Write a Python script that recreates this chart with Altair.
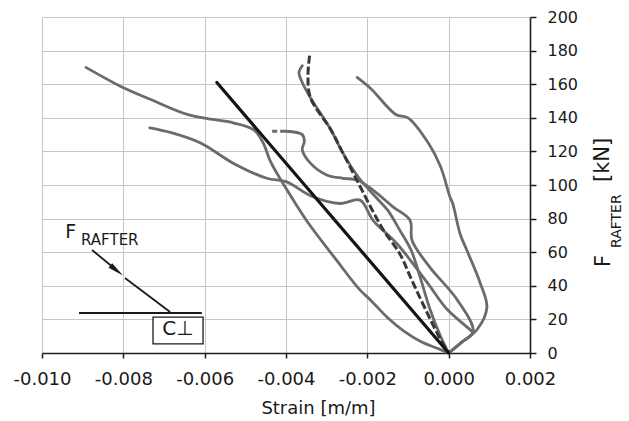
import altair as alt
import pandas as pd

# ---------------- data ----------------
X_TICKS = [-0.010, -0.008, -0.006, -0.004, -0.002, 0.000, 0.002]
Y_TICKS = [0, 20, 40, 60, 80, 100, 120, 140, 160, 180, 200]

# long curve starting top-left
A_x = [-0.00892, -0.00801, -0.00734, -0.00643, -0.0058, -0.0053, -0.0048, -0.00456, -0.0044,
       -0.0042, -0.00405, -0.0035, -0.00275, -0.0022, -0.0019, -0.0015, -0.0011, -0.0007,
       -0.0003, 0.0]
A_y = [170, 158, 151, 142, 139, 137, 133, 125, 115, 106, 100, 79, 55, 38, 31, 21, 13, 7, 3, 0]

# second curve from the left
B_x = [-0.00735, -0.0068, -0.0061, -0.0053, -0.00447, -0.0040, -0.00334, -0.00267, -0.00218,
       -0.00186, -0.00127, -0.00053, -0.00004, 0.00052, 0.0006, 0.0003, 0.0]
B_y = [134, 131, 125, 113, 104, 102, 93, 89, 91, 79, 65, 42, 26, 14, 12, 6, 0]

# curve with dashed start
C0_x = [-0.00434, -0.0040]
C0_y = [132, 132]
C_x = [-0.0040, -0.0036, -0.00355, -0.0036, -0.0034, -0.0030, -0.0026, -0.00225, -0.00186,
       -0.00137, -0.00095, -0.0009, -0.00046, 0.0002, 0.0006, 0.0003, 0.0]
C_y = [132, 130, 126, 121, 113, 106, 104, 103, 97, 87, 79, 67, 51, 32, 13, 6, 0]

# dark dashed curve
D_x = [-0.00342, -0.00346, -0.0034, -0.0029, -0.0026, -0.00226, -0.0019, -0.0016, -0.0012,
       -0.0009, -0.00053, -0.0002, 0.0]
D_y = [177, 165, 152, 133, 119, 103, 86, 73, 59, 43, 24, 8, 0]

# solid companion of the dashed curve
F_x = [-0.0036, -0.00368, -0.0036, -0.0034, -0.0029, -0.0026, -0.0022, -0.0018, -0.0015,
       -0.0012, -0.00092, -0.0007, -0.00046, -0.0002, 0.0]
F_y = [171, 167, 161, 152, 133, 119, 104, 93, 85, 73, 61, 45, 26, 10, 0]

# rightmost curve
E_x = [-0.00225, -0.0019, -0.0013, -0.0010, -0.0005, -0.0002, 0.00003, 0.0001, 0.00028,
       0.00045, 0.00077, 0.00094, 0.0007, 0.0003, 0.0]
E_y = [164, 157, 142, 140, 125, 111, 93, 89, 71, 61, 42, 27, 14, 6, 0]

# straight black line
K_x = [-0.0057, 0.0]
K_y = [161, 0]

# inset sketch (in data units)
INSET_SEG_X = [-0.00909, -0.00877, -0.00796]
INSET_SEG_X2 = [-0.00607, -0.00820, -0.00685]
INSET_SEG_Y = [23.8, 61.3, 44.6]
INSET_SEG_Y2 = [23.8, 50.0, 24.4]
ARROW_X = [-0.00818]
ARROW_Y = [49.5]
BOX_X = [-0.00727]
BOX_X2 = [-0.00604]
BOX_Y = [5.4]
BOX_Y2 = [21.4]
INSET_TXT = ["F", "RAFTER", "C\u22a5"]
INSET_TXT_X = [-0.00943, -0.00904, -0.00666]
INSET_TXT_Y = [68.5, 64.3, 10.7]


def frame(name, xs, ys):
    return pd.DataFrame({"series": name, "i": list(range(len(xs))), "x": xs, "y": ys})


gray_df = pd.concat([frame("A", A_x, A_y), frame("B", B_x, B_y), frame("C", C_x, C_y),
                     frame("E", E_x, E_y), frame("F", F_x, F_y)], ignore_index=True)
cdash_df = frame("C0", C0_x, C0_y)
dash_df = frame("D", D_x, D_y)
black_df = frame("K", K_x, K_y)
seg_df = pd.DataFrame({"x": INSET_SEG_X, "x2": INSET_SEG_X2, "y": INSET_SEG_Y, "y2": INSET_SEG_Y2})
arrow_df = pd.DataFrame({"x": ARROW_X, "y": ARROW_Y})
box_df = pd.DataFrame({"x": BOX_X, "x2": BOX_X2, "y": BOX_Y, "y2": BOX_Y2})
txt_df = pd.DataFrame({"t": INSET_TXT, "x": INSET_TXT_X, "y": INSET_TXT_Y})

FONT = "DejaVu Sans"
AX = "#1e1e1e"

xscale = alt.Scale(domain=[-0.010, 0.002], nice=False, zero=False)
yscale = alt.Scale(domain=[0, 200], nice=False)

x_axis = alt.Axis(values=X_TICKS, labelExpr="replace(format(datum.value, '.3f'), '\u2212', '-')",
                  title="Strain [m/m]", titleX=276, titleY=60, titleBaseline="alphabetic",
                  titleAlign="center", titleFont=FONT, titleFontSize=18, titleFontWeight="normal",
                  titleColor="#1a1a1a", labelFont=FONT, labelFontSize=18, labelColor="#1a1a1a",
                  labelPadding=12, tickSize=5, tickColor=AX, tickWidth=1.5, domainColor=AX,
                  domainWidth=1.6, grid=True, gridColor="#c6c6c6", gridWidth=1, labelFlush=False)
y_axis = alt.Axis(values=Y_TICKS, orient="right", title=None, labelFont=FONT, labelFontSize=16,
                  labelColor="#1a1a1a", labelPadding=11, tickSize=6, tickColor=AX, tickWidth=1.5,
                  domainColor=AX, domainWidth=1.6, grid=True, gridColor="#c6c6c6", gridWidth=1,
                  labelFlush=False)

X = alt.X("x:Q", scale=xscale, axis=x_axis)
Y = alt.Y("y:Q", scale=yscale, axis=y_axis)

gray = alt.Chart(gray_df).mark_line(color="#6b6b6b", strokeWidth=2.8, strokeCap="round",
                                    strokeJoin="round", interpolate="catmull-rom").encode(
    x=X, y=Y, detail="series:N", order="i:Q")
cdash = alt.Chart(cdash_df).mark_line(color="#6b6b6b", strokeWidth=2.8, strokeDash=[5, 3]).encode(
    x=X, y=Y, order="i:Q")
dashed = alt.Chart(dash_df).mark_line(color="#383838", strokeWidth=3, strokeDash=[8, 3],
                                      strokeJoin="round", interpolate="catmull-rom").encode(
    x=X, y=Y, order="i:Q")
black = alt.Chart(black_df).mark_line(color="#151515", strokeWidth=3.2, strokeCap="round").encode(
    x=X, y=Y, order="i:Q")

segs = alt.Chart(seg_df).mark_rule(color="#1a1a1a", strokeWidth=1.8).encode(
    x=X, y=Y, x2="x2:Q", y2="y2:Q")
arrow = alt.Chart(arrow_df).mark_point(shape="M0,-1L0.32,0.8L-0.32,0.8Z", filled=True, opacity=1,
                                       color="#1a1a1a", size=320, angle=128.5).encode(x=X, y=Y)
box = alt.Chart(box_df).mark_rect(fill="white", stroke="#1a1a1a", strokeWidth=1.3).encode(
    x=X, x2="x2:Q", y=Y, y2="y2:Q")
c_text = alt.Chart(txt_df[txt_df.t == "C\u22a5"]).mark_text(font=FONT, color="#1a1a1a",
                                                             baseline="alphabetic", align="center",
                                                             fontSize=20).encode(x=X, y=Y, text="t:N")
fr_text = alt.Chart(txt_df[txt_df.t != "C\u22a5"]).mark_text(font=FONT, color="#1a1a1a",
                                                              baseline="alphabetic", align="left").encode(
    x=X, y=Y, text="t:N",
    size=alt.Size("t:N", scale=alt.Scale(domain=["F", "RAFTER"], range=[19, 15]), legend=None))

# rotated y-axis title: F_RAFTER [kN]
ytitle_df = pd.DataFrame({"t": ["F", "RAFTER", "[kN]"]})
yt_F = alt.Chart(ytitle_df[ytitle_df.t == "F"]).mark_text(
    font=FONT, fontSize=21, angle=270, align="left", baseline="alphabetic", color="#1a1a1a").encode(
    text="t:N", x=alt.value(568), y=alt.value(250))
yt_sub = alt.Chart(ytitle_df[ytitle_df.t == "RAFTER"]).mark_text(
    font=FONT, fontSize=14, angle=270, align="left", baseline="alphabetic", color="#1a1a1a").encode(
    text="t:N", x=alt.value(579), y=alt.value(231))
yt_kn = alt.Chart(ytitle_df[ytitle_df.t == "[kN]"]).mark_text(
    font=FONT, fontSize=21, angle=270, align="left", baseline="alphabetic", color="#1a1a1a").encode(
    text="t:N", x=alt.value(567), y=alt.value(165))

chart = alt.layer(gray, cdash, dashed, black, segs, arrow, box, c_text, fr_text,
                  yt_F, yt_sub, yt_kn).properties(
    width=488, height=336,
    autosize=alt.AutoSizeParams(type="none"),
    padding={"left": 42, "top": 17, "right": 99, "bottom": 68},
    background="white",
).configure_view(stroke=None)

chart.save("out.html", embed_options={"renderer": "svg", "actions": False})
